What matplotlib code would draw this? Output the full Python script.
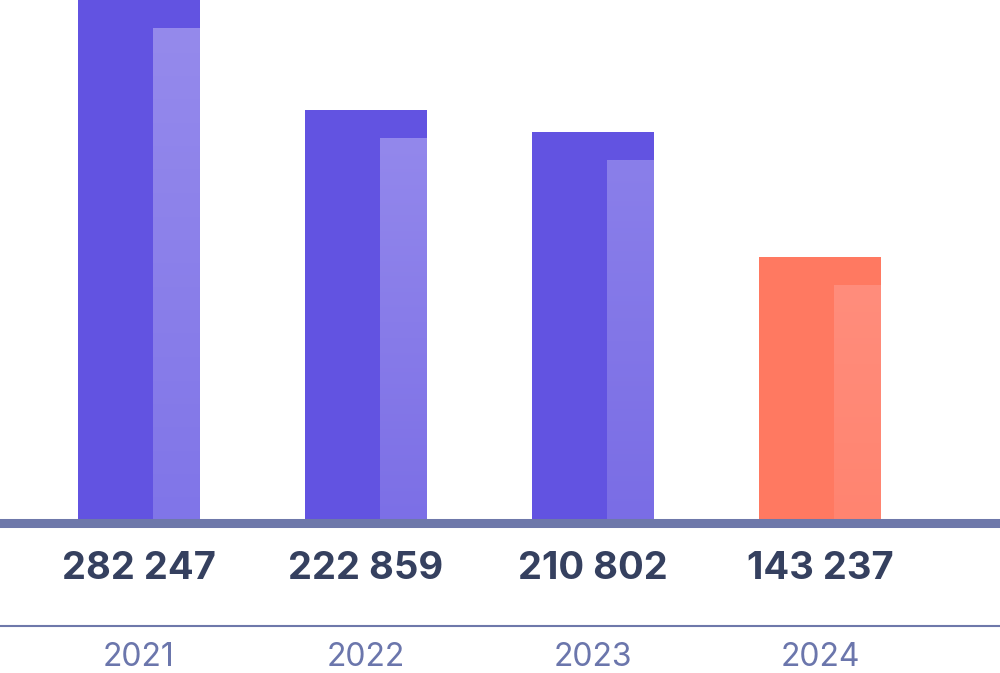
import numpy as np
import matplotlib.pyplot as plt
from matplotlib.colors import LinearSegmentedColormap

years = ["2021", "2022", "2023", "2024"]
values = [282247, 222859, 210802, 143237]
labels = ["282 247", "222 859", "210 802", "143 237"]

main_colors = ["#6253E1", "#6253E1", "#6253E1", "#FF7961"]
shade_top = ["#958AEC", "#9388EC", "#8A7FEA", "#FF8D7C"]
shade_bottom = ["#8075E8", "#7C6FE6", "#7A6DE5", "#FF8470"]

fig = plt.figure(figsize=(10, 6.73), dpi=100)
ax = fig.add_axes([0, 151 / 673, 1, 522 / 673])

x = np.arange(len(years))
bar_w = 0.537
shade_off = 0.062
shade_w = 0.207
notch = 15200  # visual step between main bar and lighter overlay

ax.bar(x, values, width=bar_w, color=main_colors, zorder=2)
for i, v in enumerate(values):
    cmap = LinearSegmentedColormap.from_list("g", [shade_bottom[i], shade_top[i]])
    grad = np.linspace(0, 1, 256).reshape(-1, 1)
    ax.imshow(grad, cmap=cmap, origin="lower", aspect="auto", zorder=3,
              extent=[x[i] + shade_off, x[i] + shade_off + shade_w, 0, v - notch])

ax.set_xlim(-0.612, 3.793)
ax.set_ylim(0, 282300)
ax.axis("off")

# thick baseline and thin separator
fig.add_artist(plt.Line2D([0, 1], [1 - 523 / 673] * 2, color="#6E78AA", lw=6.5, zorder=5))
fig.add_artist(plt.Line2D([0, 1], [1 - 626 / 673] * 2, color="#6E78AA", lw=1.5))

for i in range(len(years)):
    xf = (x[i] + 0.612) / (3.793 + 0.612)
    fig.text(xf, 1 - 569 / 673, labels[i], ha="center", va="center",
             fontsize=27.5, fontweight="bold", color="#35405F", family="Inter")
    fig.text(xf, 1 - 658 / 673, years[i], ha="center", va="center",
             fontsize=23, color="#6B76AC", family="Inter")

fig.savefig("out.png", dpi=100)
